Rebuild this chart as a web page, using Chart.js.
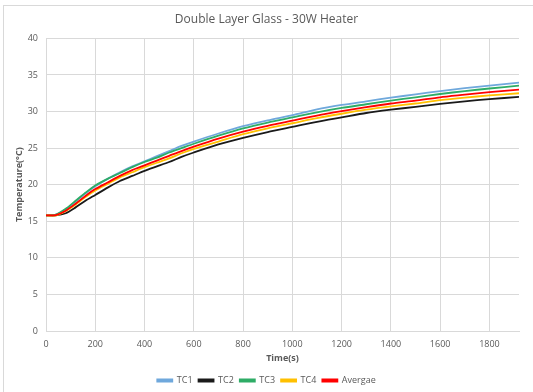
<!DOCTYPE html>
<html>
<head>
<meta charset="utf-8">
<script src="https://cdn.jsdelivr.net/npm/chart.js@4.4.1/dist/chart.umd.min.js"></script>
<style>
  html, body { margin: 0; padding: 0; background: #fff; }
  #wrap { width: 533px; height: 392px; position: relative; }
</style>
</head>
<body>
<div id="wrap"><canvas id="myChart" width="533" height="392"></canvas></div>
<script>
// time axis (s)
const times = [0, 40, 80, 120, 160, 200, 250, 300, 350, 400, 450, 500, 550, 600, 700, 800, 900, 1000, 1100, 1200, 1300, 1400, 1500, 1600, 1700, 1800, 1920]

// temperatures (°C)
const tc1 = [15.8, 15.9, 16.6, 17.7, 18.8, 19.8, 20.8, 21.7, 22.5, 23.2, 23.9, 24.6, 25.3, 25.9, 27.0, 28.0, 28.8, 29.5, 30.3, 30.9, 31.4, 31.9, 32.35, 32.8, 33.2, 33.55, 33.95]
const tc2 = [15.8, 15.8, 16.1, 16.9, 17.8, 18.6, 19.6, 20.5, 21.2, 21.9, 22.5, 23.1, 23.8, 24.4, 25.5, 26.4, 27.2, 27.9, 28.6, 29.2, 29.8, 30.25, 30.65, 31.05, 31.4, 31.7, 32.0]
const tc3 = [15.8, 15.9, 16.7, 17.8, 18.9, 19.9, 20.8, 21.6, 22.4, 23.1, 23.7, 24.4, 25.0, 25.6, 26.7, 27.7, 28.5, 29.2, 29.9, 30.5, 31.0, 31.5, 31.95, 32.4, 32.8, 33.15, 33.55]
const tc4 = [15.8, 15.8, 16.4, 17.3, 18.3, 19.2, 20.1, 21.0, 21.7, 22.4, 23.0, 23.6, 24.3, 24.9, 25.9, 26.9, 27.7, 28.4, 29.1, 29.7, 30.25, 30.7, 31.1, 31.55, 31.9, 32.2, 32.5]
const avg = [15.8, 15.85, 16.45, 17.4, 18.45, 19.4, 20.3, 21.2, 22.0, 22.65, 23.3, 23.95, 24.6, 25.2, 26.3, 27.25, 28.05, 28.75, 29.45, 30.05, 30.6, 31.1, 31.5, 31.95, 32.3, 32.65, 33.0]

const seriesNames = ['TC1', 'TC2', 'TC3', 'TC4', 'Avergae']
const seriesColors = ['#6fa8dc', '#1a1a1a', '#2eac66', '#ffc000', '#ff0000']
const seriesData = [tc1, tc2, tc3, tc4, avg]
const drawOrder = [4, 3, 2, 1, 0]

const grey = '#595959'
const gridGrey = '#d9d9d9'
const fontFamily = "'Open Sans', 'Liberation Sans', sans-serif"

const toPoints = vals => vals.map((v, i) => ({ x: times[i], y: v }))

// light frame round the whole chart, like Excel's chart area
const frame = {
    id: 'frame',
    beforeDraw(chart) {
        const c = chart.ctx
        c.save()
        c.fillStyle = '#fff'
        c.fillRect(0, 0, chart.width, chart.height)
        c.strokeStyle = '#d9d9d9'
        c.lineWidth = 1
        c.strokeRect(3.5, 5.5, chart.width - 3, chart.height - 5)
        c.restore()
    }
}

const ctx = document.getElementById('myChart').getContext('2d')

const myChart = new Chart(ctx, {
    type: 'line',
    data: {
        datasets: seriesNames.map((name, i) => ({
            label: name,
            data: toPoints(seriesData[i]),
            borderColor: seriesColors[i],
            backgroundColor: seriesColors[i],
            borderWidth: 1.8,
            pointRadius: 0,
            tension: 0.25,
            fill: false,
            order: drawOrder[i]
        }))
    },
    options: {
        responsive: false,
        animation: false,
        layout: { padding: { left: 14, right: 14, top: 12, bottom: -3 } },
        plugins: {
            title: {
                display: true,
                text: 'Double Layer Glass - 30W Heater',
                color: grey,
                font: { family: fontFamily, size: 12, weight: 'normal' },
                padding: { top: 0, bottom: 12 }
            },
            legend: {
                position: 'bottom',
                labels: {
                    color: grey,
                    font: { family: fontFamily, size: 9 },
                    boxWidth: 15,
                    boxHeight: 2,
                    padding: 6,
                    sort: (a, b) => a.datasetIndex - b.datasetIndex
                }
            },
            tooltip: { enabled: false }
        },
        scales: {
            x: {
                type: 'linear',
                min: 0,
                max: 1920,
                afterFit: scale => { scale.height = 39 },
                ticks: {
                    stepSize: 200,
                    includeBounds: false,
                    color: grey,
                    padding: 8,
                    maxRotation: 0,
                    font: { family: fontFamily, size: 9 },
                    callback: v => String(v)
                },
                grid: { color: gridGrey, drawTicks: false },
                border: { color: gridGrey },
                title: {
                    display: true,
                    text: 'Time(s)',
                    color: grey,
                    font: { family: fontFamily, size: 9, weight: 'bold' },
                    padding: { top: 0, bottom: 6 }
                }
            },
            y: {
                min: 0,
                max: 40,
                afterFit: scale => { scale.width = 32 },
                ticks: {
                    stepSize: 5,
                    color: grey,
                    padding: 8,
                    font: { family: fontFamily, size: 9 }
                },
                grid: { color: gridGrey, drawTicks: false },
                border: { display: false },
                title: {
                    display: true,
                    text: 'Temperature(°C)',
                    color: grey,
                    font: { family: fontFamily, size: 9, weight: 'bold' },
                    padding: { top: 0, bottom: 0 }
                }
            }
        }
    },
    plugins: [frame]
})
</script>
</body>
</html>
